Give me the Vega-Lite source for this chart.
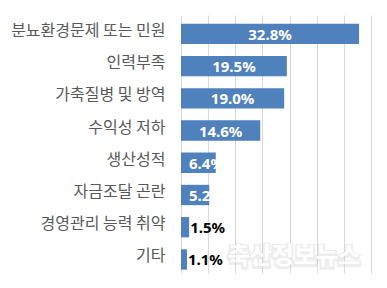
{
  "$schema": "https://vega.github.io/schema/vega-lite/v6.json",
  "width": 190,
  "height": 258,
  "autosize": {"type": "none"},
  "padding": {"left": 181, "top": 15, "right": 16, "bottom": 15},
  "background": "white",
  "config": {"view": {"stroke": null}},
  "data": {
    "values": [
      {"cause": "분뇨환경문제 또는 민원", "value": 0.328},
      {"cause": "인력부족\u00a0", "value": 0.195},
      {"cause": "가축질병 및 방역", "value": 0.190},
      {"cause": "수익성 저하\u00a0", "value": 0.146},
      {"cause": "생산성적", "value": 0.064},
      {"cause": "자금조달 곤란", "value": 0.052},
      {"cause": "경영관리 능력 취약", "value": 0.015},
      {"cause": "기타", "value": 0.011}
    ]
  },
  "encoding": {
    "y": {
      "field": "cause",
      "type": "nominal",
      "sort": null,
      "scale": {"paddingInner": 0.369, "paddingOuter": 0.187, "align": 0.72},
      "axis": {
        "title": null,
        "ticks": false,
        "domain": false,
        "labelPadding": 16,
        "labelFont": "Noto Sans CJK KR",
        "labelFontSize": 16,
        "labelColor": "#595959",
        "labelLimit": 0,
        "labelOffset": -3
      }
    }
  },
  "layer": [
    {
      "mark": {"type": "bar", "color": "#4f81bd"},
      "encoding": {
        "x": {
          "field": "value",
          "type": "quantitative",
          "scale": {"domain": [0, 0.35], "nice": false},
          "axis": {
            "title": null,
            "labels": false,
            "ticks": false,
            "domain": false,
            "grid": true,
            "gridColor": "#d9d9d9",
            "gridWidth": 1,
            "values": [0, 0.05, 0.1, 0.15, 0.2, 0.25, 0.3, 0.35]
          }
        }
      }
    },
    {
      "transform": [{"filter": "datum.value >= 0.1"}],
      "mark": {"type": "text", "color": "white", "font": "Noto Sans", "fontWeight": "bold", "fontSize": 15, "align": "center", "baseline": "middle", "dy": 1},
      "encoding": {
        "x": {"field": "value", "type": "quantitative", "scale": {"domain": [0, 0.7], "nice": false}, "axis": null},
        "text": {"field": "value", "type": "quantitative", "format": ".1%"}
      }
    },
    {
      "transform": [{"filter": "datum.value < 0.1 && datum.value >= 0.03"}],
      "mark": {"type": "text", "color": "white", "font": "Noto Sans", "fontWeight": "bold", "fontSize": 15, "align": "left", "baseline": "middle", "dx": 8, "dy": 1},
      "encoding": {
        "x": {"datum": 0, "type": "quantitative", "scale": {"domain": [0, 0.35], "nice": false}, "axis": null},
        "text": {"field": "value", "type": "quantitative", "format": ".1%"}
      }
    },
    {
      "transform": [{"filter": "datum.value < 0.03"}],
      "mark": {"type": "text", "color": "black", "font": "Noto Sans", "fontWeight": "bold", "fontSize": 15, "align": "left", "baseline": "middle", "dx": 1, "dy": 1},
      "encoding": {
        "x": {"field": "value", "type": "quantitative", "scale": {"domain": [0, 0.35], "nice": false}, "axis": null},
        "text": {"field": "value", "type": "quantitative", "format": ".1%"}
      }
    },
    {
      "data": {"values": [{"wm": "축산정보뉴스"}]},
      "mark": {"type": "text", "color": "#cccccc", "stroke": "#cccccc", "strokeWidth": 4, "opacity": 0.35, "font": "Noto Sans CJK KR", "fontWeight": "bold", "fontSize": 24, "align": "center", "baseline": "middle", "dy": -1},
      "encoding": {
        "x": {"datum": 0.208, "type": "quantitative", "scale": {"domain": [0, 0.35], "nice": false}, "axis": null},
        "y": {"datum": "기타"},
        "text": {"field": "wm"}
      }
    },
    {
      "data": {"values": [{"wm": "축산정보뉴스"}]},
      "mark": {"type": "text", "color": "white", "font": "Noto Sans CJK KR", "fontWeight": "bold", "fontSize": 24, "align": "center", "baseline": "middle", "dy": -2},
      "encoding": {
        "x": {"datum": 0.208, "type": "quantitative", "scale": {"domain": [0, 0.35], "nice": false}, "axis": null},
        "y": {"datum": "기타"},
        "text": {"field": "wm"}
      }
    }
  ],
  "resolve": {"scale": {"x": "independent"}}
}
